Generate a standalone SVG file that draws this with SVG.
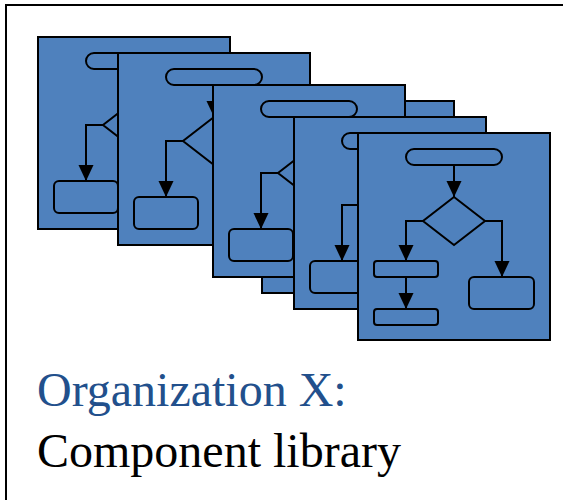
<svg xmlns="http://www.w3.org/2000/svg" xmlns:xlink="http://www.w3.org/1999/xlink" width="563" height="500" viewBox="0 0 563 500">
  <style>
    .card{fill:#4F81BD;stroke:#000;stroke-width:2}
    .shape{fill:#4F81BD;stroke:#000;stroke-width:2}
    .flow{fill:none;stroke:#000;stroke-width:2}
    .arr{fill:none;stroke:#000;stroke-width:2;marker-end:url(#ah)}
    .t1{font-family:"Liberation Serif","Times New Roman",serif;font-size:48px;fill:#22508C}
    .t2{font-family:"Liberation Serif","Times New Roman",serif;font-size:48px;fill:#000}
  </style>
  <defs>
    <marker id="ah" markerUnits="userSpaceOnUse" markerWidth="16" markerHeight="18" refX="17" refY="8" orient="auto" viewBox="0 0 17 16">
      <path d="M0,0 L17,8 L0,16 z" fill="#000"/>
    </marker>
    <g id="cardA">
      <rect class="card" x="0" y="0" width="192" height="192"/>
      <rect class="shape" x="48" y="16" width="96" height="16" rx="8"/>
      <path class="arr" d="M96,32 V64"/>
      <polygon class="shape" points="96,64 127,88 96,112 65,88"/>
      <path class="arr" d="M65,88 H48 V144"/>
      <path class="arr" d="M127,88 H144 V144"/>
      <rect class="shape" x="16" y="144" width="64" height="32" rx="5"/>
      <rect class="shape" x="111" y="144" width="65" height="32" rx="5"/>
    </g>
  </defs>
  <path id="frame" class="flow" d="M6,500 V5 H563"/>
  <g id="card1" transform="translate(38,37)"><use xlink:href="#cardA" href="#cardA"/></g>
  <g id="card2" transform="translate(118,53)"><use xlink:href="#cardA" href="#cardA"/></g>
  <g id="card3b" transform="translate(262,101)"><use xlink:href="#cardA" href="#cardA"/></g>
  <g id="card3" transform="translate(213,85)"><use xlink:href="#cardA" href="#cardA"/></g>
  <g id="card4" transform="translate(294,117)"><use xlink:href="#cardA" href="#cardA"/></g>
  <g id="card5" transform="translate(358,133)">
    <rect class="card" x="0" y="0" width="192" height="207"/>
    <rect class="shape" x="48" y="16" width="96" height="16" rx="8"/>
    <polygon class="shape" points="96,64 127,88 96,112 65,88"/>
    <rect class="shape" x="16" y="128" width="64" height="16" rx="3"/>
    <rect class="shape" x="16" y="176" width="64" height="16" rx="3"/>
    <rect class="shape" x="111" y="144" width="65" height="32" rx="5"/>
    <g id="card5-connectors">
      <path class="arr" d="M96,32 V64"/>
      <path class="arr" d="M65,88 H48 V128"/>
      <path class="arr" d="M48,144 V176"/>
      <path class="arr" d="M127,88 H144 V144"/>
    </g>
  </g>
  <g id="caption">
    <text class="t1" x="37" y="406">Organization X:</text>
    <text class="t2" x="37" y="467">Component library</text>
  </g>
</svg>
